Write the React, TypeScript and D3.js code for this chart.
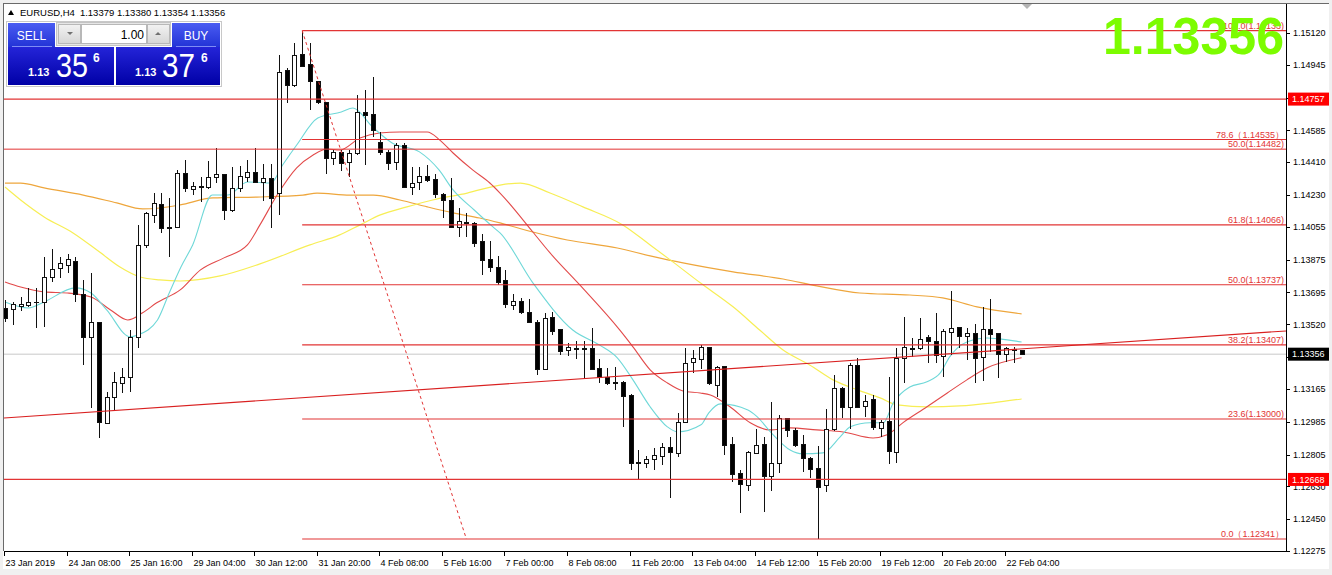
import React from "react";
import * as d3 from "d3";

const W = 1332;
const H = 575;
const PL = 4;
const PT = 4;
const PR = 1286;
const PB = 551;

// H4 candles, 23 Jan 2019 00:00 .. 22 Feb 2019 12:00
const opens = [
  1.1361, 1.13605, 1.13621, 1.13627, 1.1364, 1.13643, 1.1378, 1.1383, 1.13846, 1.13868,
  1.13687, 1.13451, 1.13533, 1.12979, 1.13121, 1.13198, 1.13231, 1.13451, 1.13956, 1.14121,
  1.14181, 1.14055, 1.14055, 1.14351, 1.14263, 1.14274, 1.14274, 1.14329, 1.14346, 1.14148,
  1.14269, 1.14329, 1.14357, 1.14302, 1.14324, 1.14241, 1.14917, 1.14834, 1.15005, 1.1495,
  1.14856, 1.14741, 1.14434, 1.14467, 1.14412, 1.14461, 1.14686, 1.14675, 1.14521, 1.14467,
  1.14412, 1.14505, 1.14274, 1.14302, 1.14335, 1.14318, 1.14236, 1.14203, 1.14055, 1.14077,
  1.14077, 1.13978, 1.13879, 1.13835, 1.13764, 1.13627, 1.13649, 1.13588, 1.13533, 1.13275,
  1.13561, 1.13495, 1.13379, 1.13385, 1.1339, 1.1339, 1.13281, 1.13231, 1.13204, 1.13204,
  1.13132, 1.12759, 1.12759, 1.12781, 1.12798, 1.12847, 1.12814, 1.12984, 1.13314, 1.1333,
  1.13396, 1.13187, 1.13292, 1.12863, 1.12704, 1.12638, 1.12814, 1.12863, 1.12688, 1.12759,
  1.13006, 1.1294, 1.12863, 1.12787, 1.12732, 1.12638, 1.12946, 1.13171, 1.13067, 1.13297,
  1.13072, 1.1311, 1.12951, 1.1299, 1.1282, 1.13336, 1.13385, 1.1339, 1.13451, 1.13429,
  1.13347, 1.13478, 1.13506, 1.13456, 1.13473, 1.13341, 1.13495, 1.13473, 1.13358, 1.13379,
  1.13379,
];
const highs = [
  1.13654, 1.13643, 1.1367, 1.1372, 1.1372, 1.1389, 1.13934, 1.1389, 1.13907, 1.1389,
  1.13764, 1.13802, 1.13533, 1.13149, 1.13259, 1.13281, 1.13489, 1.14066, 1.14137, 1.14241,
  1.14241, 1.14214, 1.14368, 1.14423, 1.14302, 1.14329, 1.14417, 1.14488, 1.14346, 1.14384,
  1.1439, 1.14423, 1.14488, 1.14401, 1.14401, 1.14999, 1.14928, 1.15065, 1.15133, 1.15065,
  1.14856, 1.14741, 1.14477, 1.14477, 1.14477, 1.14779, 1.14807, 1.14878, 1.14576, 1.14477,
  1.14516, 1.14516, 1.14384, 1.14384, 1.14395, 1.14346, 1.14241, 1.14324, 1.14159, 1.14132,
  1.14082, 1.14016, 1.13978, 1.13896, 1.13819, 1.13687, 1.13665, 1.13659, 1.13544, 1.13583,
  1.13588, 1.13495, 1.13418, 1.13429, 1.13429, 1.135, 1.1333, 1.13281, 1.13286, 1.13209,
  1.13138, 1.1283, 1.12798, 1.12841, 1.12869, 1.12902, 1.13034, 1.1339, 1.13379, 1.13407,
  1.13396, 1.13292, 1.13292, 1.12902, 1.12721, 1.12825, 1.12946, 1.12902, 1.13094, 1.13023,
  1.13006, 1.12951, 1.12913, 1.12792, 1.12852, 1.13056, 1.13242, 1.13176, 1.13308, 1.13336,
  1.13132, 1.13132, 1.12995, 1.13231, 1.1339, 1.13561, 1.13445, 1.13555, 1.13462, 1.13583,
  1.13495, 1.13703, 1.13506, 1.135, 1.13522, 1.13616, 1.13659, 1.13473, 1.13396, 1.13396,
  1.1338,
];
const lows = [
  1.13533, 1.13517, 1.13594, 1.13616, 1.135, 1.13506, 1.13753, 1.13775, 1.13802, 1.13643,
  1.13297, 1.13061, 1.12896, 1.12979, 1.1305, 1.13143, 1.13149, 1.1339, 1.13939, 1.14077,
  1.14022, 1.1389, 1.14049, 1.14247, 1.1423, 1.14192, 1.14263, 1.14296, 1.14093, 1.14137,
  1.14247, 1.14302, 1.14296, 1.14198, 1.14049, 1.14121, 1.14736, 1.14823, 1.14933, 1.14697,
  1.1473, 1.14346, 1.14395, 1.14362, 1.14329, 1.1445, 1.14395, 1.14549, 1.1445, 1.14368,
  1.14368, 1.14269, 1.1423, 1.14258, 1.14302, 1.14214, 1.14104, 1.14049, 1.14, 1.14,
  1.13945, 1.13791, 1.13808, 1.13736, 1.1361, 1.13599, 1.13577, 1.13528, 1.13242, 1.1327,
  1.13462, 1.13352, 1.13347, 1.1333, 1.1322, 1.1327, 1.13198, 1.13187, 1.1316, 1.12957,
  1.12721, 1.12666, 1.12732, 1.12721, 1.12748, 1.12567, 1.12792, 1.12979, 1.13253, 1.13275,
  1.13187, 1.13121, 1.12803, 1.12655, 1.12485, 1.12605, 1.12809, 1.1249, 1.12605, 1.12704,
  1.12902, 1.12847, 1.1271, 1.12677, 1.12341, 1.126, 1.12935, 1.13006, 1.12946, 1.13067,
  1.13012, 1.1294, 1.12902, 1.12754, 1.12759, 1.13198, 1.13341, 1.13379, 1.13308, 1.13308,
  1.13231, 1.13352, 1.1339, 1.13325, 1.13198, 1.13209, 1.13369, 1.13226, 1.13314, 1.13308,
  1.13354,
];
const closes = [
  1.13555, 1.13632, 1.13632, 1.13643, 1.13643, 1.1378, 1.13824, 1.13857, 1.13879, 1.13687,
  1.13451, 1.13533, 1.12984, 1.13121, 1.13204, 1.13231, 1.13451, 1.13956, 1.14132, 1.14187,
  1.14049, 1.14049, 1.14351, 1.14269, 1.1428, 1.1428, 1.14329, 1.14346, 1.14148, 1.14269,
  1.14335, 1.14357, 1.14302, 1.14324, 1.14214, 1.14906, 1.14834, 1.14999, 1.14939, 1.14856,
  1.14741, 1.14434, 1.14467, 1.14406, 1.14461, 1.14686, 1.1467, 1.14587, 1.14467, 1.14406,
  1.14505, 1.14274, 1.14296, 1.14335, 1.14313, 1.14236, 1.14203, 1.14055, 1.14088, 1.14082,
  1.13967, 1.13874, 1.13835, 1.13753, 1.13632, 1.13649, 1.13588, 1.13533, 1.13275, 1.13555,
  1.13484, 1.13374, 1.13396, 1.1339, 1.13385, 1.13275, 1.13231, 1.13198, 1.13198, 1.13127,
  1.12759, 1.12765, 1.12781, 1.12803, 1.12847, 1.1282, 1.12984, 1.13308, 1.13336, 1.13396,
  1.13198, 1.13286, 1.12858, 1.12699, 1.12644, 1.1282, 1.12858, 1.12688, 1.12759, 1.13006,
  1.1294, 1.12858, 1.12787, 1.12726, 1.12627, 1.12946, 1.13171, 1.13067, 1.13297, 1.13067,
  1.131, 1.12957, 1.12984, 1.12825, 1.13336, 1.13396, 1.1339, 1.1344, 1.13429, 1.13352,
  1.13484, 1.135, 1.13456, 1.13473, 1.13336, 1.13495, 1.13467, 1.13358, 1.1339, 1.13385,
  1.13356,
];

// moving averages as [bar, price]
const maCyan = [
  [0, 1.13643], [3, 1.1361], [5, 1.13643], [9, 1.1372], [11, 1.13692], [13, 1.13599],
  [16, 1.13451], [17, 1.13462], [19.5, 1.13544], [21, 1.13692], [22.5, 1.13835], [24, 1.13956],
  [26.5, 1.1423], [28.5, 1.1423], [31, 1.14302], [34, 1.14296], [35.5, 1.14395], [37.3, 1.14505],
  [40, 1.14653], [43, 1.14686], [44.5, 1.14708], [47, 1.14604], [49.5, 1.14516], [53, 1.14467],
  [55.5, 1.14368], [57.3, 1.14258], [60, 1.14148], [62.4, 1.14055], [63.3, 1.14022],
  [67.5, 1.13748], [72.6, 1.13489], [76, 1.13407], [78.3, 1.13336], [80.3, 1.13215],
  [82.5, 1.13067], [84.7, 1.12957], [86, 1.12929], [89, 1.12968], [90, 1.13034], [91.5, 1.13083],
  [95, 1.1305], [96.2, 1.13012], [98, 1.12924], [100.4, 1.1283], [102, 1.12809], [104.6, 1.12814],
  [106.8, 1.12902], [108.1, 1.12957], [110.6, 1.12979], [112.3, 1.12979], [113.6, 1.13089],
  [115.7, 1.13176], [117.9, 1.13204], [119.6, 1.13253], [120.8, 1.13341], [123, 1.13423],
  [125.6, 1.13445], [127.2, 1.1344], [130, 1.13423],
];
const maRed = [
  [0, 1.13753], [2, 1.13725], [5, 1.13698], [8, 1.13692], [11, 1.1367], [13.5, 1.13599],
  [15.7, 1.13544], [17.6, 1.13583], [19.4, 1.13638], [22.4, 1.13709], [25, 1.13819],
  [28, 1.13885], [31, 1.13956], [32.6, 1.14066], [34.8, 1.1423], [37.3, 1.14379], [39.4, 1.1445],
  [41.2, 1.14483], [42.8, 1.14477], [45.4, 1.14543], [47.9, 1.14571], [50.5, 1.14576],
  [54, 1.14576], [55.6, 1.14532], [57.3, 1.14461], [59.8, 1.14368], [62, 1.14296],
  [63.3, 1.14241], [67.5, 1.14027], [69.7, 1.13912], [73.5, 1.13736], [78.6, 1.13489],
  [80.3, 1.13396], [82.5, 1.1327], [84.7, 1.13198], [86.7, 1.13154], [88.9, 1.13143],
  [90.2, 1.13132], [92.7, 1.13067], [95.3, 1.12979], [97.8, 1.1294], [100.4, 1.12951],
  [103.8, 1.1294], [107.2, 1.12929], [111, 1.12896], [112.8, 1.12913], [114.8, 1.12979],
  [117.9, 1.13067], [120.5, 1.13143], [123, 1.13215], [125.6, 1.13281], [130, 1.13336],
];
const maYellow = [
  [0, 1.14274], [2, 1.14203], [5, 1.1411], [8.7, 1.14022], [12.1, 1.13917], [14.7, 1.13835],
  [17.3, 1.1378], [19.8, 1.13764], [22.4, 1.13758], [27.5, 1.13786], [32.6, 1.13852],
  [39, 1.13956], [42.8, 1.14011], [45.4, 1.14066], [48, 1.14121], [51.4, 1.14165],
  [54.7, 1.14203], [59.1, 1.14241], [63.3, 1.14285], [65.9, 1.14296], [69.7, 1.14241],
  [73.9, 1.14165], [79, 1.14066], [82.5, 1.13956], [85.4, 1.13863], [88.9, 1.13748],
  [93.1, 1.13616], [96.5, 1.13489], [99.5, 1.13379], [102.9, 1.13297], [105.9, 1.13215],
  [109, 1.1316], [111.9, 1.13116], [114.1, 1.13078], [117.9, 1.13067], [122.1, 1.13072],
  [126.3, 1.13089], [130, 1.1311],
];
const maOrange = [
  [0, 1.14296], [2, 1.14296], [5, 1.14269], [10, 1.1423], [14.3, 1.14187], [17.6, 1.14154],
  [19.8, 1.14159], [22.4, 1.14176], [26.6, 1.14214], [32.2, 1.14219], [38.1, 1.1423],
  [39.9, 1.14241], [44.1, 1.1423], [47.1, 1.1423], [50.5, 1.14203], [54, 1.14165],
  [57.3, 1.14132], [60.7, 1.14104], [63.3, 1.14077], [67.5, 1.14027], [71.9, 1.13983],
  [78.3, 1.13939], [82.5, 1.13896], [86.7, 1.13857], [93.1, 1.13808], [99.5, 1.13769],
  [103.8, 1.13731], [109.3, 1.13692], [115.7, 1.13681], [119.9, 1.13665], [124.3, 1.13616],
  [130, 1.13577],
];

const timeLabels = [
  "23 Jan 2019", "24 Jan 08:00", "25 Jan 16:00", "29 Jan 04:00", "30 Jan 12:00",
  "31 Jan 20:00", "4 Feb 08:00", "5 Feb 16:00", "7 Feb 00:00", "8 Feb 08:00",
  "11 Feb 20:00", "13 Feb 04:00", "14 Feb 12:00", "15 Feb 20:00", "19 Feb 12:00",
  "20 Feb 20:00", "22 Feb 04:00",
];
const barsPerLabel = 8;

const priceTicks = [
  1.1512, 1.14945, 1.14765, 1.14585, 1.1441, 1.1423, 1.14055, 1.13875, 1.13695,
  1.1352, 1.1334, 1.13165, 1.12985, 1.12805, 1.1263, 1.1245, 1.12275,
];

// fibonacci retracement
const fibStartBar = 38;
const fibEndBar = 59;
const fibPrices = [1.12341, 1.13, 1.13407, 1.13737, 1.14066, 1.14535, 1.15133];
const fibLabels = [
  "0.0\uFF081.12341\uFF09", "23.6(1.13000)", "38.2(1.13407)", "50.0(1.13737)",
  "61.8(1.14066)", "78.6\uFF081.14535\uFF09", "100.0(1.15133)",
];
const oldFibPrice = 1.14482;
const oldFibLabel = "50.0(1.14482)";

const levelPrices = [1.14757, 1.12668];
const trendBars = [0, 130];
const trendPrices = [1.13006, 1.13385];

const symbol = "EURUSD,H4";
const ohlcText = "1.13379 1.13380 1.13354 1.13356";
const bidPrice = 1.13356;
const lotText = "1.00";

const RED = "#e23434";

export default function App() {
  const x = d3.scaleLinear().domain([0, 130]).range([5, 5 + 130 * 7.82]);
  const y = d3.scaleLinear().domain([1.12275, 1.1512]).range([PB, 33]);

  const maPath = d3
    .line<number[]>()
    .x((d) => x(d[0]))
    .y((d) => y(d[1]))
    .curve(d3.curveMonotoneX);

  const fx = x(fibStartBar);
  const slope = (trendPrices[1] - trendPrices[0]) / (trendBars[1] - trendBars[0]);
  const trendAt = (b: number) => trendPrices[0] + (b - trendBars[0]) * slope;
  const tb0 = x.invert(PL);
  const tb1 = x.invert(PR);

  const font = "'Liberation Sans', Arial, sans-serif";

  return (
    <div style={{ position: "fixed", left: 0, top: 0, width: W, height: H }}>
      <svg width={W} height={H} style={{ display: "block" }} fontFamily={font}>
        <defs>
          <clipPath id="plotClip">
            <rect x={PL} y={PT} width={PR - PL} height={PB - PT} />
          </clipPath>
          <linearGradient id="btnGrad" x1="0" y1="0" x2="0" y2="1">
            <stop offset="0" stopColor="#4a5cf2" />
            <stop offset="1" stopColor="#2233d6" />
          </linearGradient>
          <linearGradient id="priceGrad" x1="0" y1="0" x2="0" y2="1">
            <stop offset="0" stopColor="#2424d8" />
            <stop offset="1" stopColor="#0000a6" />
          </linearGradient>
          <linearGradient id="arrowGrad" x1="0" y1="0" x2="0" y2="1">
            <stop offset="0" stopColor="#f2f2f2" />
            <stop offset="1" stopColor="#d6d6d6" />
          </linearGradient>
        </defs>

        {/* window frame */}
        <rect x={0} y={0} width={W} height={H} fill="#f0f0f0" />
        <rect x={3} y={3} width={1326} height={566} fill="#fff" />
        <line x1={3} x2={1329} y1={3.5} y2={3.5} stroke="#6a6a6a" />
        <line x1={3.5} x2={3.5} y1={3} y2={PB} stroke="#6a6a6a" />

        <g clipPath="url(#plotClip)">
          {/* bid line */}
          <line x1={PL} x2={PR} y1={y(bidPrice)} y2={y(bidPrice)} stroke="#c8c8c8" />

          {/* moving averages */}
          <path d={maPath(maOrange as any) || ""} fill="none" stroke="#eea63c" strokeWidth={1.2} />
          <path d={maPath(maYellow as any) || ""} fill="none" stroke="#f7ee55" strokeWidth={1.2} />
          <path d={maPath(maRed as any) || ""} fill="none" stroke="#e24a4a" strokeWidth={1.1} />
          <path d={maPath(maCyan as any) || ""} fill="none" stroke="#6fd8d8" strokeWidth={1.1} />

          {/* candles */}
          <g shapeRendering="crispEdges">
            {opens.map((o, i) => {
              const c = closes[i];
              const cx = Math.round(x(i)) + 0.5;
              const t = Math.round(y(Math.max(o, c)));
              const b = Math.round(y(Math.min(o, c)));
              const bull = c >= o;
              return (
                <g key={i}>
                  <line x1={cx} x2={cx} y1={y(highs[i])} y2={y(lows[i])} stroke="#111" />
                  {b - t < 1 ? (
                    <line x1={cx - 2.5} x2={cx + 2.5} y1={t + 0.5} y2={t + 0.5} stroke="#111" />
                  ) : (
                    <rect
                      x={cx - 2}
                      y={t + 0.5}
                      width={4}
                      height={b - t}
                      fill={bull ? "#fff" : "#000"}
                      stroke="#111"
                    />
                  )}
                </g>
              );
            })}
          </g>

          {/* horizontal levels */}
          {levelPrices.map((p) => (
            <line key={p} x1={PL} x2={PR} y1={y(p)} y2={y(p)} stroke={RED} strokeWidth={1.2} />
          ))}

          {/* old fib level, full width */}
          <line x1={PL} x2={PR} y1={y(oldFibPrice)} y2={y(oldFibPrice)} stroke={RED} />

          {/* fibonacci */}
          {fibPrices.map((p) => (
            <line key={p} x1={fx} x2={PR} y1={y(p)} y2={y(p)} stroke={RED} strokeWidth={1.1} />
          ))}
          <line
            x1={fx}
            y1={y(fibPrices[fibPrices.length - 1])}
            x2={x(fibEndBar)}
            y2={y(fibPrices[0])}
            stroke={RED}
            strokeDasharray="3,3"
          />

          {/* trendline */}
          <line
            x1={x(tb0)}
            y1={y(trendAt(tb0))}
            x2={x(tb1)}
            y2={y(trendAt(tb1))}
            stroke="#d92020"
            strokeWidth={1.1}
          />

          {/* level labels */}
          {fibPrices.map((p, k) => (
            <text key={p} x={PR - 2} y={y(p) - 2} textAnchor="end" fontSize={9} fill={RED}>
              {fibLabels[k]}
            </text>
          ))}
          <text x={PR - 2} y={y(oldFibPrice) - 2} textAnchor="end" fontSize={9} fill={RED}>
            {oldFibLabel}
          </text>
        </g>

        {/* plot border */}
        <g shapeRendering="crispEdges">
          <line x1={PR + 0.5} x2={PR + 0.5} y1={PT} y2={PB + 1} stroke="#000" />
          <line x1={PL} x2={PR + 1} y1={PB + 0.5} y2={PB + 0.5} stroke="#000" />
        </g>

        {/* price axis */}
        {priceTicks.map((p) => (
          <g key={p}>
            <line x1={PR} x2={PR + 4} y1={Math.round(y(p)) + 0.5} y2={Math.round(y(p)) + 0.5} stroke="#000" />
            <text x={PR + 7} y={y(p) + 3.2} fontSize={9} fill="#000">
              {p.toFixed(5)}
            </text>
          </g>
        ))}
        {levelPrices.map((p) => (
          <g key={p}>
            <rect x={PR + 2} y={y(p) - 6.5} width={41} height={13} fill="#ff0000" />
            <text x={PR + 6} y={y(p) + 3.2} fontSize={9} fill="#fff">
              {p.toFixed(5)}
            </text>
          </g>
        ))}
        <rect x={PR + 2} y={y(bidPrice) - 6.5} width={41} height={13} fill="#000" />
        <text x={PR + 6} y={y(bidPrice) + 3.2} fontSize={9} fill="#fff">
          {bidPrice.toFixed(5)}
        </text>

        {/* time axis */}
        {timeLabels.map((t, k) => {
          const tx = Math.round(x(k * barsPerLabel)) - 0.5;
          return (
            <g key={t}>
              <line x1={tx} x2={tx} y1={PB} y2={PB + 5} stroke="#000" />
              <text x={tx + 1} y={566} fontSize={9} fill="#000">
                {t}
              </text>
            </g>
          );
        })}

        {/* chart shift marker */}
        <polygon points="1022,4 1032,4 1027,9" fill="#b4b4b4" />

        {/* header */}
        <polygon points="8,15 11,10 14,15" fill="#000" />
        <text x={20} y={16} fontSize={9.5} fill="#000">
          {symbol}
          <tspan dx={5}>{ohlcText}</tspan>
        </text>

        {/* one click trading panel */}
        <rect x={6.5} y={21.5} width={215} height={65} fill="none" stroke="#c8c8c8" />
        <rect x={8} y={23} width={47} height={24} fill="url(#btnGrad)" />
        <line x1={12} x2={52} y1={46.5} y2={46.5} stroke="#7f8cf5" />
        <text x={31.5} y={39.5} textAnchor="middle" fontSize={12} fill="#fff">
          SELL
        </text>
        <rect x={172} y={23} width={48} height={24} fill="url(#btnGrad)" />
        <line x1={176} x2={216} y1={46.5} y2={46.5} stroke="#7f8cf5" />
        <text x={196} y={39.5} textAnchor="middle" fontSize={12} fill="#fff">
          BUY
        </text>
        <rect x={56.5} y={22.5} width={114} height={23} fill="#e6e6e6" stroke="#c4c4c4" />
        <rect x={58.5} y={24.5} width={22} height={19} fill="url(#arrowGrad)" stroke="#b8b8b8" />
        <polygon points="67,32 73,32 70,35" fill="#707070" />
        <rect x={81.5} y={24.5} width={65} height={19} fill="#fff" stroke="#b8b8b8" />
        <text x={144} y={38.5} textAnchor="end" fontSize={12} fill="#000">
          {lotText}
        </text>
        <rect x={147.5} y={24.5} width={22} height={19} fill="url(#arrowGrad)" stroke="#b8b8b8" />
        <polygon points="155,35 161,35 158,32" fill="#707070" />

        <rect x={8} y={47} width={106} height={38} fill="url(#priceGrad)" />
        <rect x={116} y={47} width={104} height={38} fill="url(#priceGrad)" />
        <text x={28} y={76} fontSize={11} fontWeight="bold" fill="#fff">
          {ohlcText.slice(24, 28)}
        </text>
        <text x={56} y={77} fontSize={34} fill="#fff" textLength={32} lengthAdjust="spacingAndGlyphs">
          35
        </text>
        <text x={93} y={62} fontSize={12} fontWeight="bold" fill="#fff">
          6
        </text>
        <text x={135} y={76} fontSize={11} fontWeight="bold" fill="#fff">
          {ohlcText.slice(24, 28)}
        </text>
        <text x={162} y={77} fontSize={34} fill="#fff" textLength={33} lengthAdjust="spacingAndGlyphs">
          37
        </text>
        <text x={201} y={62} fontSize={12} fontWeight="bold" fill="#fff">
          6
        </text>

        {/* big bid */}
        <text
          x={1103}
          y={54}
          fontSize={52}
          fontWeight="bold"
          fill="#7cfc00"
          textLength={181}
          lengthAdjust="spacingAndGlyphs"
        >
          {bidPrice.toFixed(5)}
        </text>
      </svg>
    </div>
  );
}
